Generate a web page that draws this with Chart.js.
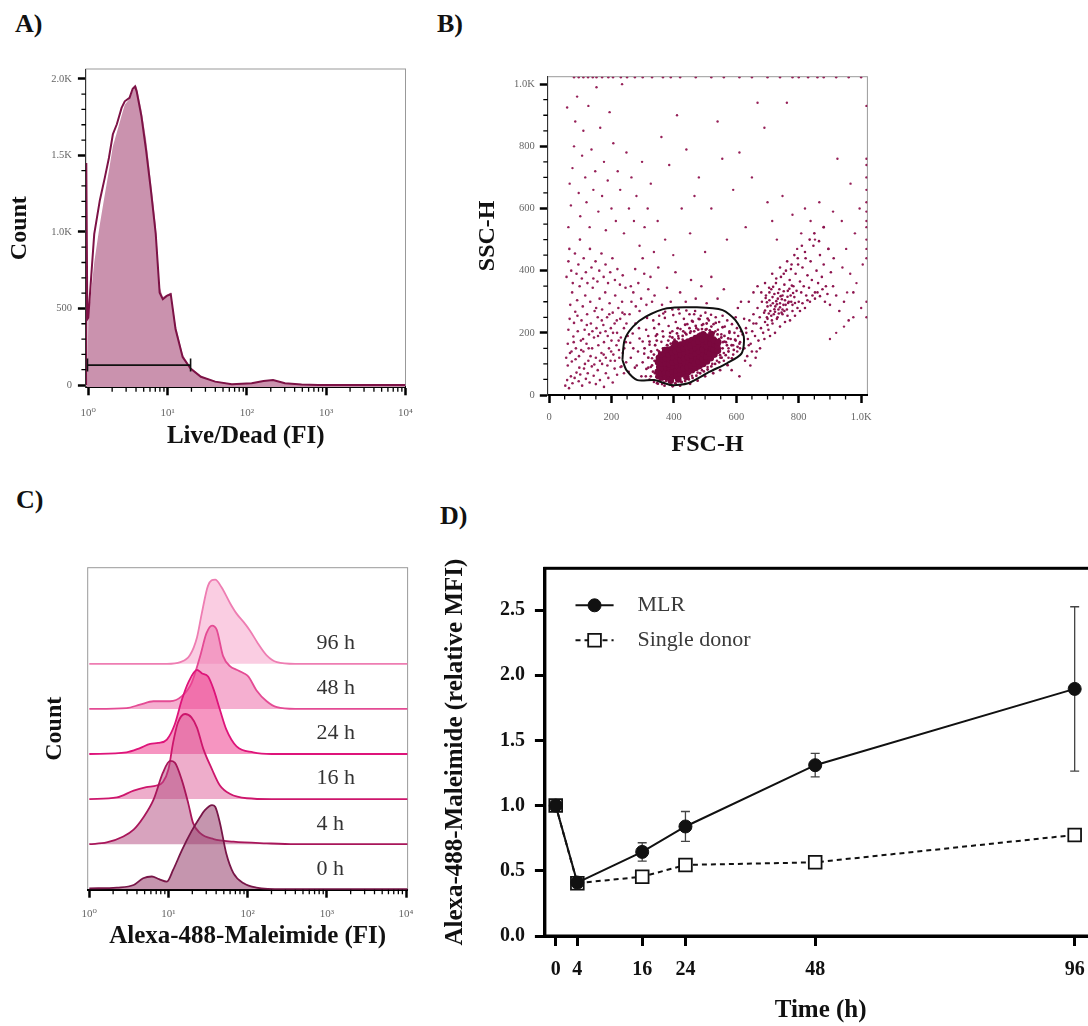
<!DOCTYPE html>
<html>
<head>
<meta charset="utf-8">
<title>Alexa-488-Maleimide uptake</title>
<script src="https://cdn.jsdelivr.net/npm/chart.js@4.4.1/dist/chart.umd.min.js"></script>
<style>
  html, body { margin: 0; padding: 0; background: #fff; }
  body { width: 1088px; height: 1026px; position: relative; overflow: hidden;
         font-family: 'Liberation Serif', 'DejaVu Serif', serif; }
  canvas { position: absolute; }
  .panel { position: absolute; font-weight: bold; font-size: 26px; line-height: 26px; color: #111; }
</style>
</head>
<body>
<div class="panel" style="left:15px;top:11px">A)</div>
<div class="panel" style="left:437px;top:11px">B)</div>
<div class="panel" style="left:16px;top:487px">C)</div>
<div class="panel" style="left:440px;top:503px">D)</div>

<canvas id="chartA" width="430" height="420" style="left:0;top:40px"></canvas>
<canvas id="chartB" width="658" height="420" style="left:430px;top:40px"></canvas>
<canvas id="chartC" width="430" height="420" style="left:0;top:540px"></canvas>
<canvas id="chartD" width="670" height="496" style="left:440px;top:530px"></canvas>

<script>
// ---- A) Live/Dead histogram (x in log10 units) ----
const liveDeadX = [-0.025, -0.025, -0.012, 0, 0.075, 0.146, 0.21, 0.26, 0.31, 0.36, 0.42, 0.46, 0.52, 0.56, 0.59, 0.61, 0.67, 0.73, 0.79, 0.85, 0.90, 0.94, 0.99, 1.04, 1.10, 1.19, 1.29, 1.42, 1.60, 1.81, 2.06, 2.21, 2.33, 2.48, 2.69, 2.9, 4.0];
const liveDeadLine = [0, 1450, 430, 440, 985, 1207, 1358, 1483, 1638, 1703, 1810, 1853, 1875, 1935, 1950, 1918, 1756, 1530, 1272, 991, 603, 560, 582, 593, 366, 183, 108, 54, 22, 5, 11, 26, 32, 11, 4, 0, 0];
const liveDeadFill = [0, 0, 0, 430, 800, 1050, 1250, 1400, 1560, 1650, 1760, 1830, 1870, 1920, 1955, 1950, 1800, 1600, 1330, 1050, 640, 575, 590, 605, 395, 200, 115, 58, 24, 6, 12, 28, 34, 13, 5, 0, 0];
const liveGateX = [-0.01, 1.29];
const liveGateCount = 130;
const countTicks = [0, 500, 1000, 1500, 2000];
const countTickLabels = ['0', '500', '1.0K', '1.5K', '2.0K'];
const decadeTicks = [0, 1, 2, 3, 4];
const decadeTickLabels = ['10⁰', '10¹', '10²', '10³', '10⁴'];

// ---- B) FSC-H / SSC-H events, flat [x, y, x, y ...] ----
const coreEvents = [
  351,60, 348,75, 353,90, 349,106, 352,120,
  362,56, 360,70, 364,86, 361,101, 363,116, 359,130,
  374,58, 372,72, 376,88, 373,103, 375,118, 371,134,
  386,56, 384,70, 388,85, 385,100, 387,115, 383,131, 386,146,
  398,60, 396,75, 400,90, 397,105, 399,121, 395,137, 398,152,
  410,63, 408,78, 412,93, 409,109, 411,125, 407,141, 410,157,
  422,66, 420,81, 424,97, 421,113, 423,129, 419,146, 422,162,
  434,70, 432,86, 436,102, 433,118, 435,134, 431,150, 434,167,
  446,74, 444,90, 448,106, 445,122, 447,138, 443,155, 446,172,
  458,80, 456,96, 460,111, 457,127, 459,143, 455,160, 458,177,
  470,87, 468,102, 472,117, 469,133, 471,149, 467,166, 470,183,
  482,93, 480,108, 484,124, 481,140, 483,156, 479,172, 482,189,
  494,100, 492,115, 496,131, 493,147, 495,164, 491,180, 494,195,
  506,108, 504,123, 508,139, 505,156, 507,172, 503,188,
  518,118, 516,134, 520,150, 517,166, 519,182,
  530,130, 528,146, 532,162, 529,176,
  541,142, 539,158, 542,170,
  390,46, 414,50, 440,58, 372,145, 404,166, 520,196
];
const ringEvents = [
  330,95, 336,130, 340,160, 344,58, 333,75, 327,140, 345,175, 352,140, 338,110, 355,45,
  365,150, 378,160, 368,40, 390,165, 402,178, 415,182, 428,190, 440,195, 452,200, 465,205,
  478,210, 490,212, 502,210, 515,208, 528,200, 540,195, 552,185, 562,172, 570,160, 575,140,
  566,128, 553,120, 545,105, 532,100, 520,92, 508,82, 496,76, 484,70, 472,62, 460,55,
  448,50, 436,45, 424,42, 405,38, 380,50, 360,62, 548,128, 556,150, 562,190, 574,182,
  585,160, 592,145, 520,220, 505,230, 490,225, 470,222, 450,215, 430,205, 410,198, 395,185,
  382,175, 326,60, 318,120, 322,172, 346,195, 366,188, 388,200, 412,215, 436,226, 458,238,
  482,244, 508,246, 534,232, 556,218, 578,200, 596,178, 604,155, 586,118, 572,96, 548,80,
  526,70, 500,60, 476,46, 452,36, 420,30, 396,28, 370,30, 346,38, 312,84, 306,150
];
const gateEvents = [
  262,120, 270,150, 281,95, 290,182, 296,60, 305,133, 311,210, 318,88, 322,162, 330,118,
  334,240, 339,70, 342,190, 347,145, 352,228, 356,52, 360,171, 364,205, 368,130, 371,248,
  375,45, 379,160, 383,222, 387,188, 390,40, 395,205, 398,257, 402,170, 406,235, 410,48,
  414,190, 418,262, 421,212, 425,42, 428,178, 432,245, 436,200, 440,55, 443,228, 447,168,
  450,260, 454,205, 458,62, 461,236, 465,186, 468,270, 472,215, 476,72, 479,245, 483,198,
  486,255, 490,80, 494,228, 497,190, 501,265, 505,212, 508,90, 512,240, 516,200, 519,258,
  523,100, 527,228, 530,185, 534,250, 538,110, 541,210, 545,235, 549,120, 552,195, 556,255,
  560,135, 563,220, 567,170, 571,240, 575,150, 578,205, 582,180, 586,228, 590,160, 594,200,
  598,175, 602,215, 606,190, 610,165, 615,205, 255,75, 268,198, 277,230, 285,140, 300,105,
  314,248, 326,90, 345,100, 358,80, 366,262, 381,108, 393,140, 404,120, 416,150, 429,160,
  438,140, 452,150, 463,170, 474,160, 487,170, 499,180, 511,175, 520,195, 533,205, 545,180,
  557,170, 300,172, 288,215, 275,88, 310,60, 322,50, 336,42, 349,36, 362,35, 260,168,
  318,190, 337,215, 353,255, 372,268, 395,275, 415,276, 440,272, 465,260, 490,100, 505,108,
  520,125, 535,135, 548,150, 560,110, 575,120, 590,130, 603,140, 612,150, 628,110, 640,160,
  645,95, 632,200, 655,230, 665,140, 610,60, 585,80
];
const leftEvents = [
  52,30, 58,48, 64,22, 70,60, 75,38, 82,55, 88,72, 95,44, 100,66, 106,30, 112,85, 118,52,
  124,70, 130,40, 137,92, 143,62, 150,35, 156,80, 163,48, 170,100, 176,26, 182,70, 190,55,
  197,110, 204,40, 210,85, 218,65, 225,120, 232,92, 240,70, 247,105,
  55,120, 60,165, 62,210, 66,245, 68,290, 72,140, 74,330, 78,188, 80,232, 84,268, 86,150,
  90,305, 92,205, 96,125, 98,350, 102,175, 104,240, 108,285, 110,140, 114,210, 116,320,
  120,165, 122,260, 126,110, 128,195, 132,300, 134,230, 138,150, 140,345, 144,185, 146,270,
  150,120, 152,215, 156,250, 158,160, 162,310, 164,200, 168,135, 170,275, 174,225, 176,170,
  180,330, 182,120, 186,250, 188,190, 192,150, 194,295, 198,215, 200,175, 204,265, 206,130,
  210,230, 212,320, 216,160, 218,200, 222,280, 224,145, 228,245, 230,185, 234,300, 236,135,
  240,215, 242,260, 246,170, 248,230,
  56,380, 62,430, 65,470, 71,400, 76,360, 83,455, 88,390, 94,420, 99,500, 105,375, 111,440,
  118,395, 123,360, 131,470, 136,410, 142,375, 149,430, 155,365, 161,400, 168,455, 175,380,
  181,420, 189,360, 196,395, 203,440, 211,370, 219,405, 227,355, 236,385, 245,345,
  60,95, 67,135, 73,108, 79,170, 85,115, 91,255, 97,88, 103,145, 109,180, 115,100, 121,225,
  127,150, 133,125, 139,205, 145,98, 151,280, 157,190, 163,110, 169,240, 175,130, 181,205,
  187,95, 193,260, 199,140, 205,200, 211,110, 217,240, 223,175, 229,90, 235,265, 241,150,
  252,190, 258,260, 264,300, 270,330, 278,285, 286,360, 295,310, 305,390, 318,340, 330,300,
  262,350, 276,405, 290,270, 300,440, 312,290, 325,380, 338,320, 350,410, 362,290, 378,345,
  390,300, 405,395, 420,330, 438,300, 455,370, 470,310, 488,350, 505,295, 520,380, 540,310,
  560,340
];
const rightEvents = [
  612,170, 620,195, 626,150, 631,215, 637,180, 642,240, 646,165, 651,205, 655,260, 660,190,
  664,230, 668,280, 671,175, 675,250, 679,215, 682,300, 686,200, 689,265, 692,235, 695,320,
  698,250, 700,285, 703,210, 706,305, 709,270, 712,340, 714,240, 717,295, 720,260, 722,325,
  725,285, 727,360, 730,245, 733,310, 735,275, 738,340, 740,295, 743,380, 745,265, 748,320,
  751,290, 754,355, 756,305, 759,400, 762,275, 765,335, 768,300, 771,370, 774,320, 777,420,
  780,290, 783,350, 786,315, 790,390, 793,335, 797,440, 800,300, 804,365, 808,330, 812,410,
  816,350, 820,460, 824,320, 828,385, 833,345, 838,430, 842,370, 847,480, 852,330, 857,400,
  862,360, 868,450, 874,380, 880,420, 887,350, 895,470, 903,395, 912,440,
  690,180, 700,225, 708,190, 716,230, 724,200, 732,250, 740,220, 748,260, 756,235, 764,255,
  772,240, 780,270, 788,255, 796,280, 804,270, 812,295, 820,280, 828,305, 836,300, 844,320,
  852,310, 860,330, 868,318, 876,340, 884,300, 892,325, 900,290, 910,350, 920,320, 930,270,
  945,300, 960,240, 975,330,
  680,330, 692,360, 705,345, 715,390, 728,375, 740,410, 752,390, 763,430, 775,405, 786,450,
  798,420, 810,480, 822,440, 835,500, 850,520, 865,495, 880,540, 640,300, 655,330, 668,350,
  650,140, 662,120, 676,150, 635,125, 625,245, 605,280, 598,250, 615,300,
  692,272, 698,298, 704,262, 710,288, 716,315, 722,276, 728,302, 734,328, 740,282, 746,308,
  752,334, 758,290, 764,316, 770,342, 776,300, 782,328, 788,296, 694,312, 706,330, 718,348,
  730,292, 742,318, 754,270, 766,296, 778,352, 700,245, 712,255, 724,268, 736,262, 748,275
];
const upperEvents = [
  62,540, 70,610, 66,680, 75,730, 80,800, 84,880, 90,960, 58,925, 95,650, 100,575, 106,770,
  110,850, 116,700, 120,620, 126,930, 130,540, 136,790, 142,660, 148,720, 152,990, 158,590,
  164,860, 170,640, 176,750, 182,530, 188,690, 194,910, 200,600, 206,810, 214,560, 220,720,
  228,660, 234,1000, 240,520, 248,780, 256,600, 264,700, 272,560, 280,640, 290,480, 298,750,
  306,540, 316,600, 326,680, 336,460, 348,560, 360,830, 372,500, 385,740, 398,450, 410,900,
  425,600, 440,790, 452,520, 466,640, 480,700, 500,460, 520,600, 540,880, 555,760, 570,500,
  590,660, 610,780, 630,540, 650,700, 668,940, 690,860, 700,620, 715,560, 730,500, 748,640,
  762,940, 780,580, 795,470, 808,520, 820,600, 838,560, 852,500, 866,620, 880,540, 895,470,
  910,590, 924,760, 938,560, 952,470, 966,680, 980,520, 995,600, 1005,420, 965,390, 940,410,
  985,360, 955,330, 920,200, 900,180, 1000,280, 975,250, 945,220
];
const edgeEvents = [
  80,1022, 95,1022, 110,1022, 125,1022, 140,1022, 152,1022, 170,1022, 190,1022, 205,1022,
  230,1022, 250,1022, 275,1022, 300,1022, 330,1022, 365,1022, 390,1022, 420,1022, 470,1022,
  520,1022, 560,1022, 610,1022, 650,1022, 700,1022, 740,1022, 780,1022, 800,1022, 830,1022,
  860,1022, 880,1022, 920,1022, 960,1022, 1000,1022,
  1017,930, 1017,760, 1017,740, 1017,700, 1017,660, 1017,620, 1017,590, 1017,560,
  1017,540, 1017,500, 1017,470, 1017,440, 1017,300, 1017,250
];
const lymphGate = [235,113, 242,177, 269,220, 310,252, 378,279, 474,282, 556,273, 597,241, 624,188, 617,134, 570,102, 515,75, 446,38, 392,32, 337,48, 283,48, 248,80, 235,113];
const linearTicks = [0, 200, 400, 600, 800, 1000];
const linearTickLabels = ['0', '200', '400', '600', '800', '1.0K'];

// ---- C) Alexa-488-Maleimide offset histograms (height in % of mode) ----
const laneNames = ['0 h', '4 h', '16 h', '24 h', '48 h', '96 h'];
const laneOffsets = [0, 53, 106, 159, 212, 265];
const lane0hX = [0, 0.35, 0.56, 0.68, 0.79, 0.88, 0.98, 1.06, 1.17, 1.29, 1.40, 1.46, 1.55, 1.59, 1.65, 1.73, 1.82, 1.95, 2.11, 2.45, 4.02];
const lane0hH = [1, 2, 5, 13, 15, 12, 9, 23, 46, 68, 85, 93, 99, 97, 78, 42, 19, 7, 2, 0, 0];
const lane4hX = [0, 0.22, 0.43, 0.56, 0.68, 0.81, 0.93, 1.02, 1.08, 1.17, 1.25, 1.31, 1.40, 1.57, 1.82, 2.24, 2.6, 4.02];
const lane4hH = [0, 2, 9, 17, 31, 52, 84, 98, 96, 75, 48, 25, 13, 6, 3, 1, 0, 0];
const lane16hX = [0, 0.35, 0.56, 0.72, 0.85, 0.93, 1.00, 1.06, 1.12, 1.21, 1.29, 1.36, 1.44, 1.55, 1.65, 1.78, 1.99, 2.3, 4.02];
const lane16hH = [0, 2, 10, 14, 16, 20, 35, 67, 90, 100, 96, 84, 59, 35, 16, 6, 1, 0, 0];
const lane24hX = [0, 0.47, 0.64, 0.77, 0.87, 0.98, 1.08, 1.17, 1.25, 1.36, 1.42, 1.50, 1.57, 1.65, 1.73, 1.86, 2.07, 2.3, 4.02];
const lane24hH = [0, 2, 7, 12, 13, 17, 35, 64, 84, 99, 95, 91, 76, 52, 29, 9, 2, 0, 0];
const lane48hX = [0, 0.47, 0.64, 0.81, 1.02, 1.17, 1.29, 1.40, 1.48, 1.55, 1.61, 1.69, 1.78, 1.86, 1.95, 2.01, 2.11, 2.24, 2.37, 2.6, 4.02];
const lane48hH = [0, 1, 5, 9, 9, 15, 30, 62, 89, 98, 93, 62, 50, 46, 42, 38, 22, 9, 2, 0, 0];
const lane96hX = [0, 0.98, 1.15, 1.27, 1.36, 1.42, 1.50, 1.59, 1.67, 1.78, 1.86, 1.95, 2.03, 2.13, 2.24, 2.37, 2.6, 4.02];
const lane96hH = [0, 0, 2, 10, 31, 59, 92, 99, 90, 71, 59, 49, 39, 24, 10, 2, 0, 0];
const laneLine = ['rgb(120,22,72)', 'rgb(168,22,90)', 'rgb(205,22,108)', 'rgb(222,20,122)', 'rgb(228,75,148)', 'rgb(238,125,178)'];
const laneFill = ['rgba(150,62,108,0.55)', 'rgba(178,72,125,0.5)', 'rgba(222,92,152,0.5)', 'rgba(238,62,142,0.55)', 'rgba(238,122,176,0.6)', 'rgba(246,172,206,0.6)'];

// ---- D) relative MFI over time ----
const timePoints = [0, 4, 16, 24, 48, 96];
const mlrMean = [1.0, 0.41, 0.645, 0.84, 1.31, 1.895];
const mlrSd = [0, 0, 0.07, 0.115, 0.09, 0.63];
const singleDonor = [1.0, 0.405, 0.455, 0.545, 0.565, 0.775];
const mfiTicks = [0, 0.5, 1.0, 1.5, 2.0, 2.5];

Chart.defaults.font.family = "'Liberation Serif', 'DejaVu Serif', serif";
Chart.defaults.color = '#666';

const xy = (xs, ys, off = 0) => xs.map((x, i) => ({ x: x, y: ys[i] + off }));
const pairs = flat => {
  const out = [];
  for (let i = 0; i < flat.length; i += 2) out.push({ x: flat[i], y: flat[i + 1] });
  return out;
};
const setTicks = vals => scale => { scale.ticks = vals.map(v => ({ value: v })); };

const logMinor = [];
for (let d = 0; d < 4; d++) for (let k = 2; k <= 9; k++) logMinor.push(d + Math.log10(k));
const countMinor = [];
for (let v = 100; v < 2000; v += 100) if (v % 500) countMinor.push(v);
const linMinor = [];
for (let v = 50; v < 1020; v += 50) if (v % 200) linMinor.push(v);

// thin box round the plot area
const frame = {
  id: 'frame',
  beforeDraw(chart, args, opts) {
    const { ctx, chartArea: a } = chart;
    ctx.save();
    ctx.strokeStyle = opts.color || '#999';
    ctx.lineWidth = opts.width || 1;
    ctx.strokeRect(a.left, a.top, a.right - a.left, a.bottom - a.top);
    ctx.restore();
  }
};

// short unlabelled ticks between the major ones
const minorTicks = {
  id: 'minorTicks',
  afterDraw(chart, args, opts) {
    const { ctx, chartArea: a, scales } = chart;
    ctx.save();
    ctx.strokeStyle = '#000';
    ctx.lineWidth = 1.3;
    ctx.beginPath();
    (opts.x || []).forEach(v => {
      const px = scales.x.getPixelForValue(v);
      ctx.moveTo(px, a.bottom); ctx.lineTo(px, a.bottom + 4.5);
    });
    (opts.y || []).forEach(v => {
      const py = scales.y.getPixelForValue(v);
      ctx.moveTo(a.left, py); ctx.lineTo(a.left - 4.5, py);
    });
    ctx.stroke();
    ctx.restore();
  }
};

const flowAxis = (extra) => Object.assign({
  type: 'linear',
  grid: { drawOnChartArea: false, drawTicks: true, tickLength: 8, tickWidth: 2.5, tickColor: '#000' },
  border: { display: true, color: '#000', width: 2 },
  ticks: { color: '#666', font: { size: 11 }, autoSkip: false, maxRotation: 0 }
}, extra);

const baseOptions = (padding) => ({
  responsive: false,
  animation: false,
  devicePixelRatio: 1,
  layout: { padding: padding },
  plugins: { legend: { display: false }, tooltip: { enabled: false } }
});

// A
const optA = baseOptions({ left: 0, top: 29, right: 24.5, bottom: 0 });
optA.plugins.minorTicks = { x: logMinor, y: countMinor };
optA.scales = {
  x: flowAxis({
    min: -0.03, max: 4,
    afterFit: s => { s.height = 72.7; },
    afterBuildTicks: setTicks(decadeTicks),
    ticks: { callback: (v, i) => decadeTickLabels[i], padding: 11, color: '#666', font: { size: 11 }, autoSkip: false, maxRotation: 0 },
    title: { display: true, text: 'Live/Dead (FI)', color: '#111', font: { size: 25, weight: 'bold' }, padding: { top: 0, bottom: 8.3 } }
  }),
  y: flowAxis({
    min: -15, max: 2064,
    afterFit: s => { s.width = 85.9; },
    afterBuildTicks: setTicks(countTicks),
    border: { display: true, color: '#333', width: 1 },
    ticks: { callback: (v, i) => countTickLabels[i], padding: 6, color: '#666', font: { size: 10.5 } },
    title: { display: true, text: 'Count', color: '#111', font: { size: 24, weight: 'bold' }, padding: { top: 5.6, bottom: 0 } }
  })
};
new Chart(document.getElementById('chartA'), {
  type: 'line',
  data: {
    datasets: [
      { data: liveGateX.map(x => ({ x: x, y: liveGateCount })), borderColor: '#111', borderWidth: 1.6,
        pointStyle: 'line', pointRotation: 90, pointRadius: 6.5, pointBorderColor: '#111', pointBorderWidth: 1.6, fill: false },
      { data: xy(liveDeadX, liveDeadLine), borderColor: 'rgb(125,18,70)', borderWidth: 2, pointRadius: 0, fill: false, tension: 0 },
      { data: xy(liveDeadX, liveDeadFill), borderWidth: 0, borderColor: 'rgba(0,0,0,0)', backgroundColor: 'rgb(202,146,174)', pointRadius: 0, fill: 'start', tension: 0 }
    ]
  },
  options: optA,
  plugins: [frame, minorTicks]
});

// B
const optB = baseOptions({ left: 0, top: 36.7, right: 220.6, bottom: 0 });
optB.plugins.minorTicks = { x: linMinor, y: linMinor };
optB.scales = {
  x: flowAxis({
    min: -4, max: 1020,
    afterFit: s => { s.height = 65; },
    afterBuildTicks: setTicks(linearTicks),
    ticks: { callback: (v, i) => linearTickLabels[i], padding: 8, color: '#666', font: { size: 10.5 }, autoSkip: false, maxRotation: 0 },
    title: { display: true, text: 'FSC-H', color: '#111', font: { size: 24, weight: 'bold' }, padding: { top: 0, bottom: 0.6 } }
  }),
  y: flowAxis({
    min: 0, max: 1024,
    afterFit: s => { s.width = 117.8; },
    afterBuildTicks: setTicks(linearTicks),
    border: { display: true, color: '#333', width: 1 },
    ticks: { callback: (v, i) => linearTickLabels[i], padding: 5, color: '#666', font: { size: 10.5 } },
    title: { display: true, text: 'SSC-H', color: '#111', font: { size: 24, weight: 'bold' }, padding: { top: 43.6, bottom: 0 } }
  })
};
const dot = (flat, r, color) => ({ data: pairs(flat), pointRadius: r, pointBorderWidth: 0, pointBackgroundColor: color, pointHoverRadius: 0 });
new Chart(document.getElementById('chartB'), {
  type: 'scatter',
  data: {
    datasets: [
      { data: pairs(lymphGate), showLine: true, borderColor: '#111', borderWidth: 2, pointRadius: 0, tension: 0.25 },
      dot(coreEvents, 3.3, 'rgb(122,8,62)'),
      dot(ringEvents, 1.4, 'rgb(135,16,72)'),
      dot(gateEvents, 1.3, 'rgb(140,20,78)'),
      dot(leftEvents, 1.3, 'rgb(150,32,88)'),
      dot(rightEvents, 1.3, 'rgb(140,20,78)'),
      dot(upperEvents, 1.2, 'rgb(150,32,88)'),
      dot(edgeEvents, 1.2, 'rgb(150,32,88)')
    ]
  },
  options: optB,
  plugins: [frame, minorTicks]
});

// C
const laneX = [lane0hX, lane4hX, lane16hX, lane24hX, lane48hX, lane96hX];
const laneH = [lane0hH, lane4hH, lane16hH, lane24hH, lane48hH, lane96hH];
const laneLabels = {
  id: 'laneLabels',
  afterDatasetsDraw(chart) {
    const { ctx, scales: { x, y } } = chart;
    ctx.save();
    ctx.fillStyle = '#333';
    ctx.font = "22px 'Liberation Serif', 'DejaVu Serif', serif";
    ctx.textBaseline = 'middle';
    laneNames.forEach((name, i) => {
      ctx.fillText(name, x.getPixelForValue(2.87), y.getPixelForValue(laneOffsets[i] + 24));
    });
    ctx.restore();
  }
};
const optC = baseOptions({ left: 0, top: 27.7, right: 22.4, bottom: 0 });
optC.plugins.minorTicks = { x: logMinor };
optC.scales = {
  x: flowAxis({
    min: -0.02, max: 4.02,
    afterFit: s => { s.height = 70.3; },
    afterBuildTicks: setTicks(decadeTicks),
    ticks: { callback: (v, i) => decadeTickLabels[i], padding: 10, color: '#666', font: { size: 11 }, autoSkip: false, maxRotation: 0 },
    title: { display: true, text: 'Alexa-488-Maleimide (FI)', color: '#111', font: { size: 25, weight: 'bold' }, padding: { top: 0, bottom: 8.3 } }
  }),
  y: {
    type: 'linear', min: -0.5, max: 378,
    afterFit: s => { s.width = 87.7; },
    grid: { display: false },
    border: { display: false },
    ticks: { display: false },
    title: { display: true, text: 'Count', color: '#111', font: { size: 24, weight: 'bold' }, padding: { top: 40.6, bottom: 0 } }
  }
};
new Chart(document.getElementById('chartC'), {
  type: 'line',
  data: {
    datasets: laneNames.map((name, i) => ({
      label: name,
      data: xy(laneX[i], laneH[i], laneOffsets[i]),
      borderColor: laneLine[i],
      borderWidth: 1.8,
      backgroundColor: laneFill[i],
      fill: { value: laneOffsets[i] },
      pointRadius: 0,
      cubicInterpolationMode: 'monotone'
    }))
  },
  options: optC,
  plugins: [frame, minorTicks, laneLabels]
});

// D
const errorBars = {
  id: 'errorBars',
  beforeDatasetsDraw(chart) {
    const { ctx, scales: { x, y } } = chart;
    ctx.save();
    ctx.strokeStyle = '#444';
    ctx.lineWidth = 1.3;
    ctx.beginPath();
    timePoints.forEach((t, i) => {
      if (!mlrSd[i]) return;
      const px = x.getPixelForValue(t);
      const top = y.getPixelForValue(mlrMean[i] + mlrSd[i]);
      const bot = y.getPixelForValue(mlrMean[i] - mlrSd[i]);
      ctx.moveTo(px, top); ctx.lineTo(px, bot);
      ctx.moveTo(px - 4.5, top); ctx.lineTo(px + 4.5, top);
      ctx.moveTo(px - 4.5, bot); ctx.lineTo(px + 4.5, bot);
    });
    ctx.stroke();
    ctx.restore();
  }
};
const insetLegend = {
  id: 'insetLegend',
  afterDraw(chart) {
    const { ctx, chartArea: a } = chart;
    chart.data.datasets.forEach((ds, i) => {
      const y = a.top + 37 + i * 35;
      const x0 = a.left + 30.6, x1 = a.left + 68.7, xm = (x0 + x1) / 2;
      ctx.save();
      ctx.strokeStyle = ds.borderColor;
      ctx.lineWidth = ds.borderWidth;
      ctx.setLineDash(ds.borderDash || []);
      ctx.beginPath(); ctx.moveTo(x0, y); ctx.lineTo(x1, y); ctx.stroke();
      ctx.setLineDash([]);
      ctx.fillStyle = ds.pointBackgroundColor;
      ctx.lineWidth = ds.pointBorderWidth;
      ctx.beginPath();
      if (ds.pointStyle === 'rect') {
        const h = ds.pointRadius * Math.SQRT1_2;
        ctx.rect(xm - h, y - h, 2 * h, 2 * h);
      } else {
        ctx.arc(xm, y, ds.pointRadius, 0, Math.PI * 2);
      }
      ctx.fill(); ctx.stroke();
      ctx.fillStyle = '#3a3a3a';
      ctx.font = "22px 'Liberation Serif', 'DejaVu Serif', serif";
      ctx.textBaseline = 'middle';
      ctx.fillText(ds.label, a.left + 92.6, y);
      ctx.restore();
    });
  }
};
const optD = baseOptions({ left: 0, top: 38.3, right: 13.7, bottom: 0 });
optD.plugins.frame = { color: '#000', width: 3 };
const boldTicks = { color: '#111', font: { size: 20, weight: 'bold' }, autoSkip: false, maxRotation: 0 };
optD.scales = {
  x: {
    type: 'linear', min: -2, max: 100,
    afterFit: s => { s.height = 90; },
    afterBuildTicks: setTicks(timePoints),
    grid: { drawOnChartArea: false, drawTicks: true, tickLength: 10, tickWidth: 3, tickColor: '#000' },
    border: { display: true, color: '#000', width: 3 },
    ticks: Object.assign({ padding: 12, callback: v => String(v) }, boldTicks),
    title: { display: true, text: 'Time (h)', color: '#111', font: { size: 25, weight: 'bold' }, padding: { top: 0, bottom: 0 } }
  },
  y: {
    type: 'linear', min: 0, max: 2.82,
    afterFit: s => { s.width = 104.9; },
    afterBuildTicks: setTicks(mfiTicks),
    grid: { drawOnChartArea: false, drawTicks: true, tickLength: 10, tickWidth: 3, tickColor: '#000' },
    border: { display: true, color: '#000', width: 3 },
    ticks: Object.assign({ padding: 10, callback: v => v.toFixed(1) }, boldTicks),
    title: { display: true, text: 'Alexa-488-Maleimide (relative MFI)', color: '#111', font: { size: 25, weight: 'bold' }, padding: { top: 1, bottom: 0 } }
  }
};
new Chart(document.getElementById('chartD'), {
  type: 'line',
  data: {
    datasets: [
      { label: 'MLR', data: xy(timePoints, mlrMean), borderColor: '#111', borderWidth: 2,
        pointStyle: 'circle', pointRadius: 6.5, pointBackgroundColor: '#111', pointBorderColor: '#111', pointBorderWidth: 1, tension: 0 },
      { label: 'Single donor', data: xy(timePoints, singleDonor), borderColor: '#111', borderWidth: 2, borderDash: [5, 4],
        pointStyle: 'rect', pointRadius: 9, pointBackgroundColor: '#fff', pointBorderColor: '#111', pointBorderWidth: 1.8, tension: 0 }
    ]
  },
  options: optD,
  plugins: [frame, errorBars, insetLegend]
});
</script>
</body>
</html>
